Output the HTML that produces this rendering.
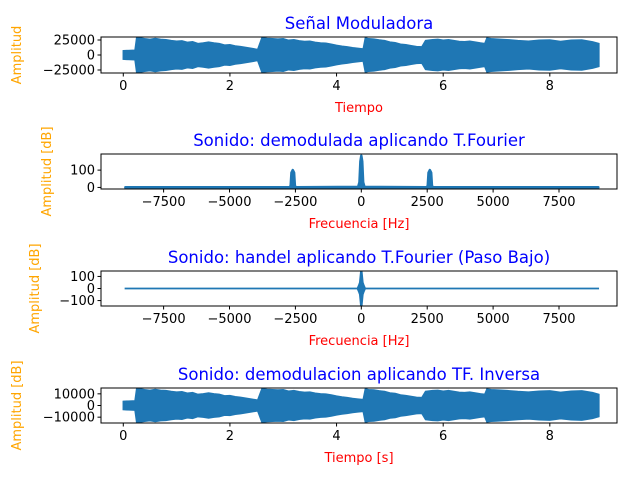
<!DOCTYPE html>
<html><head><meta charset="utf-8"><style>
body{margin:0;background:#fff}
svg text{font-family:"DejaVu Sans","Liberation Sans",sans-serif}
</style></head><body>
<svg id="fig" width="640" height="480" xmlns="http://www.w3.org/2000/svg"></svg>
<script>
// ---- data ----
const envTimes = [0,0.22,0.25,0.3,0.4,0.5,0.6,0.7,0.8,0.9,1.0,1.1,1.2,1.3,1.4,1.5,1.6,1.7,1.8,1.9,2.0,2.1,2.2,2.3,2.4,2.5,2.52,2.6,2.7,2.8,2.9,3.0,3.1,3.2,3.3,3.4,3.5,3.6,3.7,3.8,3.9,4.0,4.1,4.2,4.3,4.4,4.5,4.54,4.6,4.7,4.8,4.9,5.0,5.1,5.2,5.3,5.4,5.5,5.6,5.67,5.8,5.9,6.0,6.1,6.2,6.3,6.4,6.5,6.6,6.7,6.78,6.82,6.9,7.0,7.2,7.4,7.6,7.8,8.0,8.2,8.4,8.6,8.8,8.92];
const envTop = [7000,8000,28000,28500,27000,26000,27500,26000,25500,24000,23000,23500,21000,22000,19000,20000,21500,20000,19000,16500,17000,15000,14000,12500,11000,9500,9000,28500,27500,27000,26500,27000,24500,25500,23500,22500,23000,21000,20000,19500,18000,16000,14500,13500,12000,11000,10000,28500,27000,26500,25000,24000,21500,20500,18000,17000,15500,14000,13500,24000,25500,26000,24500,25500,24000,22500,22000,23000,21500,20000,19000,28000,27000,26500,25500,24000,23000,24500,25000,22500,24500,25000,22000,19000];
const envBottom = [3500,4000,14000,14250,13500,13000,13750,13000,12750,12000,11500,11750,10500,11000,9500,10000,10750,10000,9500,8250,8500,7500,7000,6250,5500,4750,4500,14250,13750,13500,13250,13500,12250,12750,11750,11250,11500,10500,10000,9750,9000,8000,7250,6750,6000,5500,5000,14250,13500,13250,12500,12000,10750,10250,9000,8500,7750,7000,6750,12000,12750,13000,12250,12750,12000,11250,11000,11500,10750,10000,9500,14000,13500,13250,12750,12000,11500,12250,12500,11250,12250,12500,11000,9500];
const spec1Freq = [-8950,-2720,-2680,-2650,-2600,-2550,-2520,-2480,-120,-70,-35,0,35,70,120,2480,2520,2550,2600,2650,2680,2720,8990];
const spec1Mag  = [1,1,10,85,100,85,10,1,3,30,150,183,150,30,3,1,10,85,100,85,10,1,1];
const spec2Freq = [-8950,-150,-100,-60,-20,0,20,60,100,150,8990];
const spec2Env  = [1,1,25,50,140,140,140,50,25,1,1];
const timeTicks = [0,2,4,6,8];
const freqTicks = [-7500,-5000,-2500,0,2500,5000,7500];
const ticks1 = [25000,0,-25000];
const ticks2 = [100,0];
const ticks3 = [100,0,-100];
const ticks4 = [10000,0,-10000];
// ---- layout ----
const NS="http://www.w3.org/2000/svg", svg=document.getElementById('fig');
const X0=101,X1=617,C='#1f77b4';
function el(t,a,txt){const e=document.createElementNS(NS,t);for(const k in a)e.setAttribute(k,a[k]);if(txt!==undefined)e.textContent=txt;svg.appendChild(e);return e;}
function axes(name,y0,y1,xmin,xmax,ymin,ymax){
  const sx=v=>X0+(v-xmin)/(xmax-xmin)*(X1-X0);
  const sy=v=>y1-(v-ymin)/(ymax-ymin)*(y1-y0);
  return {name,y0,y1,sx,sy};
}
function frame(a,xt,yt,fmt){
  const r=el('rect',{x:X0,y:a.y0,width:X1-X0,height:a.y1-a.y0,fill:'none',stroke:'#000','stroke-width':1});
  
  
  xt.forEach(v=>{const x=a.sx(v);el('line',{x1:x,x2:x,y1:a.y1,y2:a.y1+3.5,stroke:'#000'});
    const t=el('text',{x:x,y:a.y1+17,'font-size':13,'text-anchor':'middle'},fmt(v));
    
    });
  yt.forEach(v=>{const y=a.sy(v);el('line',{x1:X0,x2:X0-3.5,y1:y,y2:y,stroke:'#000'});
    const t=el('text',{x:X0-6,y:y+4.5,'font-size':13,'text-anchor':'end'},fmt(v));
    
    });
}
const fmt=v=>(v<0?'\u2212'+(-v):''+v);
function labels(a,title,xl,yl,ylx){
  const t=el('text',{x:(X0+X1)/2,y:a.y0-8,'font-size':16.5,fill:'blue','text-anchor':'middle'},title);
  
  
  const x=el('text',{x:(X0+X1)/2,y:a.y1+39,'font-size':13,fill:'red','text-anchor':'middle'},xl);
  
  
  const cy=(a.y0+a.y1)/2;
  const y=el('text',{x:ylx,y:cy,'font-size':13,fill:'orange','text-anchor':'middle',transform:'rotate(-90 '+ylx+' '+cy+')'},yl);
  
  
}
function band(a,xs,env,name){
  let d='M'+a.sx(xs[0])+','+a.sy(env[0]);
  for(let i=1;i<xs.length;i++)d+='L'+a.sx(xs[i])+','+a.sy(env[i]);
  for(let i=xs.length-1;i>=0;i--)d+='L'+a.sx(xs[i])+','+a.sy(-env[i]);
  const p=el('path',{d:d+'Z',fill:C,stroke:C,'stroke-width':1.5});
  
  
}
const TMIN=-0.418,TMAX=9.26,FMIN=-9875,FMAX=9700;
// subplot 1
const a1=axes('signal-plot',37,73,TMIN,TMAX,-30000,30000);
band(a1,envTimes,envTop,'signal-waveform');
frame(a1,timeTicks,ticks1,fmt);
labels(a1,'Señal Moduladora','Tiempo','Amplitud',21);
// subplot 2
const a2=axes('spectrum-plot',154,189,FMIN,FMAX,-9,193);
(function(){let d='';spec1Freq.forEach((f,i)=>{d+=(i?'L':'M')+a2.sx(f)+','+a2.sy(spec1Mag[i]);});
 for(let i=spec1Freq.length-1;i>=0;i--)d+='L'+a2.sx(spec1Freq[i])+','+a2.sy(0);
 const p=el('path',{d:d+'Z',fill:C,stroke:C,'stroke-width':2.5,'stroke-linejoin':'round'});
 
 })();
frame(a2,freqTicks,ticks2,fmt);
labels(a2,'Sonido: demodulada aplicando T.Fourier','Frecuencia [Hz]','Amplitud [dB]',51);
// subplot 3
const a3=axes('lowpass-plot',271,306,FMIN,FMAX,-145,145);
band(a3,spec2Freq,spec2Env,'lowpass-spectrum');
frame(a3,freqTicks,ticks3,fmt);
labels(a3,'Sonido: handel aplicando T.Fourier (Paso Bajo)','Frecuencia [Hz]','Amplitud [dB]',39);
// subplot 4
const a4=axes('inverse-plot',388,423,TMIN,TMAX,-15000,15000);
band(a4,envTimes,envBottom,'inverse-waveform');
frame(a4,timeTicks,ticks4,fmt);
labels(a4,'Sonido: demodulacion aplicando TF. Inversa','Tiempo [s]','Amplitud [dB]',21);
</script>
</body></html>
